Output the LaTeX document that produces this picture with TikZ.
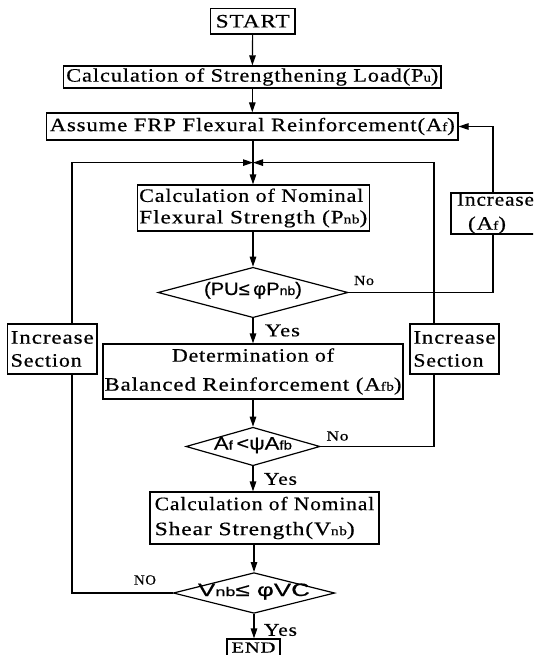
\documentclass[tikz,border=0pt]{standalone}
\usepackage{fontspec}
\usepackage{graphicx}
\setmainfont{Liberation Serif}[LetterSpace=4,FakeBold=0.5]
\newfontfamily\formfont{Liberation Sans}[FakeBold=0.6]
\usetikzlibrary{shapes.geometric,arrows.meta}
\newcommand\sm[1]{{\fontsize{12.5}{12.5}\selectfont #1}}
\newcommand\fsm[1]{{\fontsize{12.5}{12.5}\selectfont #1}}
\newcommand\fitw[2]{\resizebox{#1pt}{\height}{#2}}
\newcommand\dtext[3]{\smash{\makebox[0pt]{\raisebox{#1}{\fitw{#2}{#3}}}}}
\begin{document}
\begin{tikzpicture}[x=1pt,y=-1pt,
  box/.style={draw, line width=1.2pt, inner sep=0pt, font=\fontsize{19}{22}\selectfont},
  dia/.style={draw, diamond, line width=1.2pt, inner sep=0pt, font=\formfont\fontsize{18}{18}\selectfont},
  arr/.style={-{Triangle[length=10pt,width=6.5pt]}, line width=1.2pt},
  ln/.style={line width=1.2pt},
  lbl/.style={font=\fontsize{14}{14}\selectfont, inner sep=0pt},
  lbly/.style={font=\fontsize{18}{18}\selectfont, inner sep=0pt}]
\useasboundingbox (0,0) rectangle (533,655);
\clip (0,0) rectangle (533,655);
\node[box, minimum width=84.5pt, minimum height=25.5pt] (start) at (252.75,21.25) {\fitw{74}{START}};
\node[box, minimum width=377.4pt, minimum height=22pt] (pu) at (252.3,77) {\fitw{372}{Calculation of Strengthening Load(P\sm{u})}};
\node[box, minimum width=411.4pt, minimum height=27pt] (af) at (252.3,126.5) {\fitw{405}{Assume FRP Flexural Reinforcement(A\sm{f})}};
\coordinate (j) at (253,162.6);
\node[box, minimum width=232pt, minimum height=46pt, align=left, font=\fontsize{19}{21.5}\selectfont] (pnb) at (253.3,208) {\fitw{224}{Calculation of Nominal}\\\fitw{228}{Flexural Strength (P\sm{nb})}};
\node[dia, minimum width=190pt, minimum height=50.4pt] (d1) at (253,292.5) {\dtext{-2.5pt}{98}{(PU≤\,φP\fsm{nb})}};
\node[box, minimum width=300pt, minimum height=55pt, align=center, font=\fontsize{19}{29}\selectfont] (bal) at (253,371.5) {\fitw{162}{Determination of}\\\fitw{297}{Balanced Reinforcement (A\sm{fb})}};
\node[dia, minimum width=134pt, minimum height=38.5pt] (d2) at (253,446.5) {\dtext{-3pt}{78}{A\fsm{f}\,<ψA\fsm{fb}}};
\node[box, minimum width=229pt, minimum height=52pt, align=left, font=\fontsize{19}{25}\selectfont] (shear) at (264.5,518) {\fitw{219.5}{Calculation of Nominal}\\\fitw{200}{Shear Strength(V\sm{nb})}};
\node[dia, minimum width=161.5pt, minimum height=40.7pt] (d3) at (254,593) {\dtext{-3pt}{112}{V\fsm{nb}≤ φVC}};
\node[box, minimum width=53pt, minimum height=20pt] (end) at (253.5,649) {\raisebox{3pt}{\resizebox{44pt}{10pt}{END}}};
\node[box, minimum width=89.5pt, minimum height=50pt, align=left, font=\fontsize{19}{23}\selectfont] (lis) at (52.25,349) {\fitw{83}{Increase}\\\fitw{71}{Section}};
\node[box, minimum width=89pt, minimum height=50pt, align=left, font=\fontsize{19}{23}\selectfont] (ris) at (454.5,349) {\fitw{82}{Increase}\\\fitw{70}{Section}};
\node[box, minimum width=89pt, minimum height=41pt, align=left, font=\fontsize{19}{24}\selectfont] (iaf) at (495.5,213.5) {\fitw{77}{Increase}\\\hspace*{11pt}\fitw{38}{(A\sm{f})}};
\coordinate (lx) at (72,0);
\coordinate (rx) at (434,0);
\coordinate (fx) at (493,0);
\draw[arr] (start) -- (pu);
\draw[arr] (pu) -- (af);
\draw[arr] (af.south -| j) -- (pnb.north -| j);
\draw[arr] (lis.north -| lx) |- (j);
\draw[arr] (ris.north -| rx) |- (j);
\draw[arr] (pnb.south -| d1) -- (d1.north);
\draw[arr] (d1.south) -- (d1.south |- bal.north);
\draw[arr] (bal.south -| d2) -- (d2.north);
\draw[arr] (d2.south) -- (d2.south |- shear.north);
\draw[arr] (d3.north |- shear.south) -- (d3.north);
\draw[arr] (d3.south) -- (d3.south |- end.north);
\draw[ln] (d1.east) -| (iaf.south -| fx);
\draw[arr] (iaf.north -| fx) |- (af.east);
\draw[ln] (d2.east) -| (ris.south -| rx);
\draw[ln] (d3.west) -| (lis.south -| lx);
\node[lbl] (no1) at (364,280.5) {\fitw{20}{No}};
\node[lbly] (yes1) at (282.5,330.5) {\fitw{35}{Yes}};
\node[lbl] (no2) at (337.5,436) {\fitw{22}{No}};
\node[lbly] (yes2) at (280.5,479) {\fitw{33}{Yes}};
\node[lbl] (no3) at (145,580) {\fitw{22}{NO}};
\node[lbly] (yes3) at (280.5,630) {\fitw{33}{Yes}};
\end{tikzpicture}
\end{document}
